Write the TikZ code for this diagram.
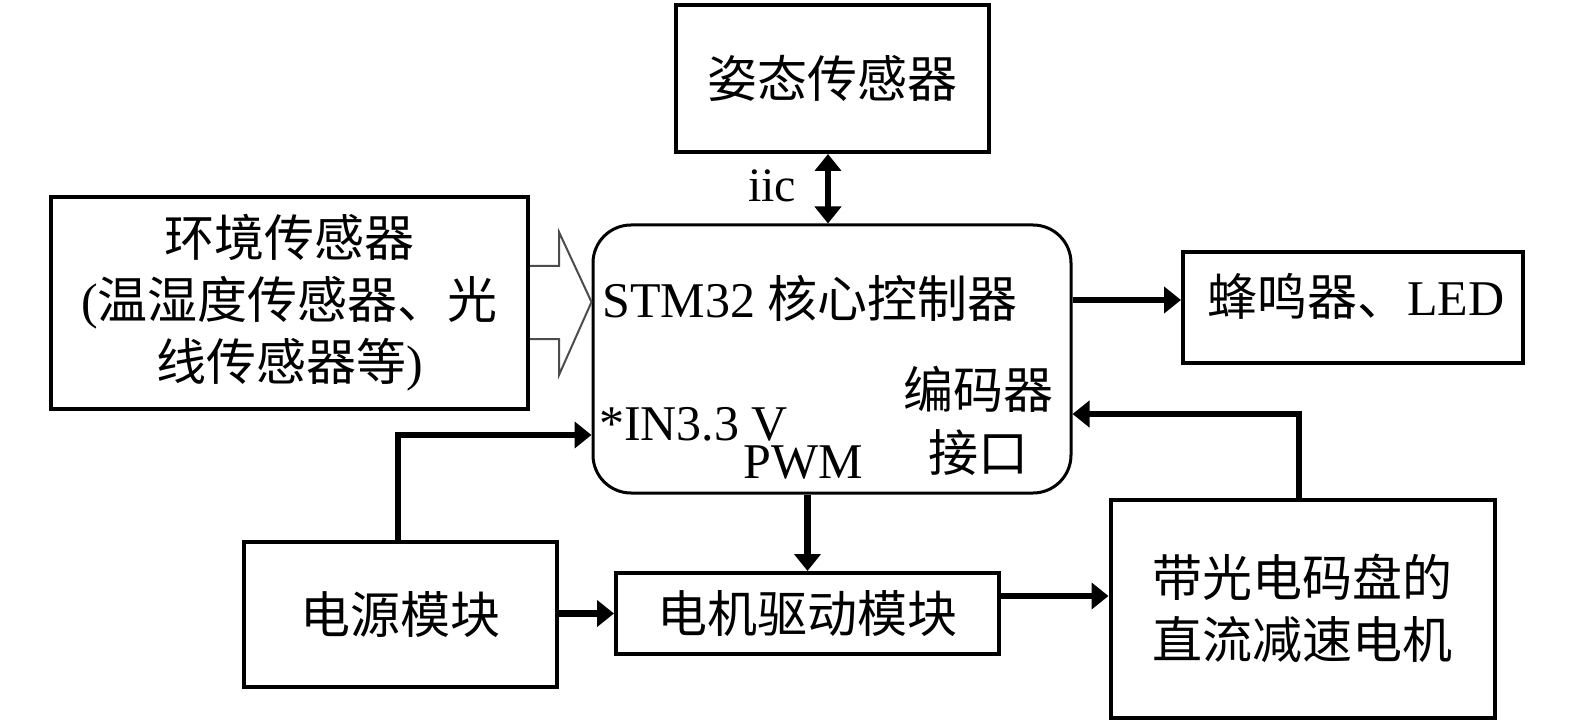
\documentclass[tikz,border=0pt]{standalone}
\usepackage{fontspec}
\setmainfont{Liberation Serif}
\newfontfamily\cjk{Noto Sans CJK SC}
\usetikzlibrary{arrows.meta}
\begin{document}
\begin{tikzpicture}[x=1pt,y=-1pt,
  box/.style={draw, line width=4pt, inner sep=0pt, align=center,
    font=\fontsize{50}{62}\selectfont\cjk},
  lbl/.style={inner sep=0pt, font=\fontsize{50}{62}\selectfont},
  head/.tip={Triangle[length=17pt,width=26pt]},
  conn/.style={line width=6.5pt, -head},
]
\useasboundingbox (0,0) rectangle (1575,722);
% boxes
\node[box, minimum width=313pt, minimum height=147pt] (att) at (832.5,78.5) {姿态传感器};
\node[box, minimum width=477pt, minimum height=212pt] (env) at (289.5,303)
  {环境传感器\\{\rmfamily(}温湿度传感器、光\\线传感器等{\rmfamily)}};
\node[draw, line width=3pt, rounded corners=38pt, minimum width=478pt, minimum height=268pt] (stm) at (832,359) {};
\node[box, minimum width=340pt, minimum height=111pt] (led) at (1353,307.5) {};
\node[box, minimum width=384pt, minimum height=218pt] (motor) at (1302.5,608.5)
  {带光电码盘的\\直流减速电机};
\node[box, minimum width=313pt, minimum height=145pt] (power) at (400.5,614.5) {电源模块};
\node[box, minimum width=383pt, minimum height=81pt] (drv) at (807.5,613.5) {电机驱动模块};
% texts
\node[lbl, anchor=base west] (stmt) at (602,317) {STM32 {\cjk 核心控制器}};
\node[lbl, anchor=base west] (vin) at (599,440) {*IN3.3 V};
\node[lbl, anchor=base west] (pwm) at (743,478) {PWM};
\node[lbl, align=center, font=\fontsize{50}{63}\selectfont\cjk] (enc) at (978,421) {编码器\\接口};
\node[lbl, anchor=base] (ledt) at (1356,316) {{\cjk 蜂鸣器、}LED};
\node[lbl, font=\fontsize{48}{50}\selectfont, anchor=base] (iic) at (772,202) {iic};
% hollow arrow
\draw[black!70, line width=2pt, line join=miter]
  (env.east |- 0,266) -- (559,266) -- (559,232) -- (stm.west |- 0,302)
  -- (559,375) -- (559,339) -- (env.east |- 0,339);
% connectors
\draw[line width=6pt, head-head]
  (att.south -| 828,0) -- (stm.north -| 828,0);
\draw[conn] (stm.east |- 0,300) -- (led.west |- 0,300);
\coordinate (fb) at (1299,414);
\draw[conn] (motor.north -| fb) -- (fb) -- (stm.east |- fb);
\coordinate (pw) at (398,435);
\draw[conn] (power.north -| pw) -- (pw) -- (stm.west |- pw);
\draw[conn] (power.east |- drv.west) -- (drv.west);
\draw[conn] (stm.south -| drv.north) -- (drv.north);
\draw[conn] (drv.east |- 0,596) -- (motor.west |- 0,596);
\end{tikzpicture}
\end{document}
